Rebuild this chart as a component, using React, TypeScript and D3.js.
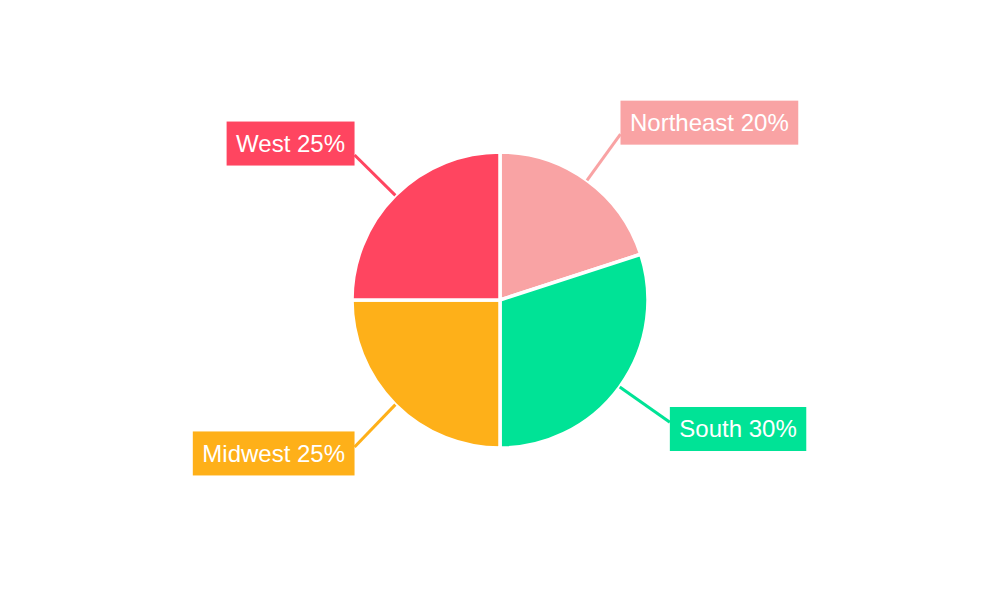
import React, { useEffect, useRef } from "react";
import * as d3 from "d3";

const categories = ["Northeast", "South", "Midwest", "West"];
const values = [20, 30, 25, 25];
const colors = ["#F9A3A4", "#00E396", "#FEB019", "#FF4560"];

const W = 1000;
const H = 600;
const CX = 500;
const CY = 300;
const R = 148;
const R_LINE = 205;
const PAD = 9.5;
const BOX_H = 44;

export default function App() {
  const ref = useRef<SVGSVGElement | null>(null);

  useEffect(() => {
    const svg = d3.select(ref.current);
    svg.selectAll("*").remove();
    const g = svg.append("g").attr("transform", `translate(${CX},${CY})`);

    const data = categories.map((c, i) => ({ name: c, value: values[i], color: colors[i] }));
    const pie = d3
      .pie<any>()
      .sort(null)
      .value((d: any) => d.value)
      .startAngle(0)
      .endAngle(2 * Math.PI);
    const arcs = pie(data);
    const arc = d3.arc<any>().innerRadius(0).outerRadius(R);

    g.selectAll("path.slice")
      .data(arcs)
      .enter()
      .append("path")
      .attr("class", "slice")
      .attr("d", arc as any)
      .attr("fill", (d: any) => d.data.color)
      .attr("stroke", "#fff")
      .attr("stroke-width", 3.5)
      .attr("stroke-linejoin", "round");

    arcs.forEach((a: any) => {
      const mid = (a.startAngle + a.endAngle) / 2;
      const sx = Math.sin(mid);
      const sy = -Math.cos(mid);
      const x0 = sx * R;
      const y0 = sy * R;
      const x1 = sx * R_LINE;
      const y1 = sy * R_LINE;

      const label = `${a.data.name} ${a.data.value}%`;
      const lg = g.append("g");
      const rect = lg.append("rect").attr("fill", a.data.color);
      const text = lg
        .append("text")
        .attr("fill", "#fff")
        .attr("font-family", "'Liberation Sans', Arial, sans-serif")
        .attr("font-size", 24)
        .text(label);
      const tw = (text.node() as SVGTextElement).getComputedTextLength();
      const bw = tw + 2 * PAD;
      const bx = sx >= 0 ? x1 + (sy > 0 ? 4 : 0) : x1 - bw - 0.5;
      const by = y1 < 0 ? y1 - 33.5 : y1 - 13.5;
      rect.attr("x", bx).attr("y", by).attr("width", bw).attr("height", BOX_H);
      text.attr("x", bx + PAD).attr("y", by + 30.5);

      g.insert("line", "g")
        .attr("x1", x0)
        .attr("y1", y0)
        .attr("x2", sx >= 0 ? bx : bx + bw)
        .attr("y2", y1 + (sy > 0 ? 3 * sy : 0))
        .attr("stroke", a.data.color)
        .attr("stroke-width", 3);
    });
  }, []);

  return (
    <svg ref={ref} width={W} height={H} style={{ display: "block", position: "absolute", left: 0, top: 0 }} />
  );
}
